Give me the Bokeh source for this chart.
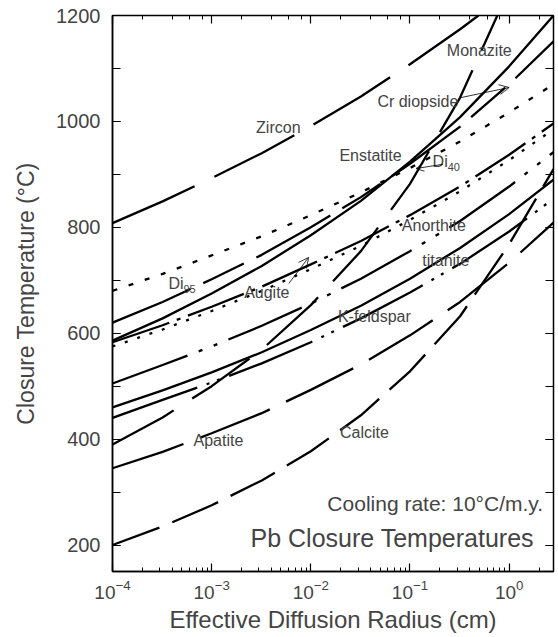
from bokeh.plotting import figure
from bokeh.models import (Range1d, LogAxis, LinearAxis, Label, Arrow, OpenHead,
                          SingleIntervalTicker, LogTicker)
from bokeh.embed import file_html
from bokeh.resources import INLINE

# ---------------- data ----------------
radius = [1e-4, 3.2e-4, 1e-3, 3.2e-3, 1e-2, 3.2e-2, 0.1, 0.32, 1.0, 2.8]

zircon_r = [1e-4, 3.2e-4, 1e-3, 3.2e-3, 1e-2, 3.2e-2, 0.1, 0.32, 0.49]
zircon_t = [808, 849, 893, 940, 991, 1047, 1108, 1174, 1200]

monazite_r = [1e-4, 3.2e-4, 1e-3, 3.2e-3, 1e-2, 3.2e-2, 0.1, 0.32, 0.76]
monazite_t = [390, 441, 500, 569, 653, 755, 882, 1045, 1200]

di95_t = [680, 712, 747, 783, 823, 866, 912, 962, 1017, 1070]
enstatite_t = [620, 659, 702, 748, 800, 857, 920, 990, 1070, 1151]
crdiopside_t = [586, 628, 675, 727, 785, 850, 924, 1008, 1104, 1200]
augite_t = [583, 615, 650, 688, 730, 774, 823, 877, 937, 996]
di40_t = [575, 607, 642, 680, 721, 765, 814, 868, 927, 985]
titanite_t = [505, 540, 575, 614, 656, 703, 755, 812, 877, 942]
kfeldspar_t = [460, 492, 526, 564, 606, 652, 703, 761, 825, 890]
anorthite_t = [440, 474, 507, 543, 583, 628, 677, 731, 792, 854]
apatite_t = [345, 376, 411, 449, 493, 541, 596, 659, 733, 809]
calcite_t = [200, 235, 275, 322, 377, 445, 528, 632, 768, 910]

# ---------------- figure ----------------
FONT = "Liberation Sans"
p = figure(width=558, height=637, x_axis_type="log",
           x_range=Range1d(1e-4, 2.8), y_range=Range1d(150, 1200),
           output_backend="svg", toolbar_location=None,
           min_border_left=112, min_border_right=5,
           min_border_top=15, min_border_bottom=66)
p.xgrid.grid_line_color = None
p.ygrid.grid_line_color = None
p.outline_line_color = "black"
p.outline_line_width = 1.5
p.background_fill_color = "white"
p.border_fill_color = "white"

yt = SingleIntervalTicker(interval=200, num_minor_ticks=2)
for ax in p.yaxis:
    ax.ticker = yt
    ax.major_tick_in = 8
    ax.major_tick_out = 0
    ax.minor_tick_in = 8
    ax.minor_tick_out = 0
    ax.axis_line_width = 1.5
    ax.major_tick_line_width = 1.2
    ax.minor_tick_line_width = 1.2
    ax.major_label_text_font = FONT
    ax.major_label_text_font_size = "20px"
    ax.major_label_standoff = 12
    ax.axis_label = "Closure Temperature (\u00b0C)"
    ax.axis_label_text_font = FONT
    ax.axis_label_text_font_size = "23px"
    ax.axis_label_text_font_style = "normal"
    ax.axis_label_standoff = 14

for ax in p.xaxis:
    ax.major_tick_in = 8
    ax.major_tick_out = 0
    ax.minor_tick_in = 4
    ax.minor_tick_out = 0
    ax.axis_line_width = 1.5
    ax.major_tick_line_width = 1.2
    ax.minor_tick_line_width = 1.0
    ax.major_label_text_font = FONT
    ax.major_label_text_font_size = "19px"
    ax.major_label_standoff = 8
    ax.axis_label = "Effective Diffusion Radius (cm)"
    ax.axis_label_text_font = FONT
    ax.axis_label_text_font_size = "24px"
    ax.axis_label_text_font_style = "normal"
    ax.axis_label_standoff = 4

right = LinearAxis(ticker=yt, major_tick_in=8, major_tick_out=0, minor_tick_in=8,
                   minor_tick_out=0, major_label_text_font_size="2px",
                   major_label_text_color=None,
                   major_label_standoff=0, axis_line_color=None,
                   major_tick_line_width=1.2, minor_tick_line_width=1.2)
p.add_layout(right, "right")
top = LogAxis(ticker=LogTicker(), major_tick_in=8, major_tick_out=0, minor_tick_in=4,
              minor_tick_out=0, major_label_text_font_size="2px",
              major_label_text_color=None,
              major_label_standoff=0, axis_line_color=None,
              major_tick_line_width=1.2, minor_tick_line_width=1.0)
p.add_layout(top, "above")

# ---------------- curves ----------------
LW = 2.3
p.line(zircon_r, zircon_t, line_width=LW, color="black", line_dash="90 22")
p.line(monazite_r, monazite_t, line_width=LW, color="black", line_dash="70 22")
p.line(radius, di95_t, line_width=LW, color="black", line_dash="5 12")
p.line(radius, enstatite_t, line_width=LW, color="black", line_dash="85 14 45 14")
p.line(radius, crdiopside_t, line_width=LW, color="black")
p.line(radius, augite_t, line_width=LW, color="black", line_dash="60 8 4 8")
p.line(radius, di40_t, line_width=LW, color="black", line_dash="3 10")
p.line(radius, titanite_t, line_width=LW, color="black", line_dash="80 12 4 12 4 12")
p.line(radius, kfeldspar_t, line_width=LW, color="black")
p.line(radius, anorthite_t, line_width=LW, color="black", line_dash="90 10 3 8 3 10")
p.line(radius, apatite_t, line_width=LW, color="black", line_dash="75 18")
p.line(radius, calcite_t, line_width=LW, color="black", line_dash="50 14")

# ---------------- labels ----------------
def lab(x, y, t, size="16px", align="center"):
    p.add_layout(Label(x=x, y=y, text=t, text_font=FONT, text_font_size=size,
                       text_align=align, text_baseline="middle"))

lab(0.50, 1134, "Monazite")
lab(0.12, 1038, "Cr diopside")
lab(0.0047, 988, "Zircon")
lab(0.040, 936, "Enstatite")
lab(0.174, 803, "Anorthite")
lab(0.23, 737, "titanite")
lab(0.0437, 632, "K-feldspar")
lab(0.0036, 677, "Augite")
lab(0.00117, 397, "Apatite")
lab(0.0347, 412, "Calcite")
lab(0.24, 925, "Di", align="right")
p.add_layout(Label(x=0.24, y=925, text="40", text_font=FONT, text_font_size="11px",
                   text_align="left", text_baseline="top", y_offset=-2))
lab(0.00052, 694, "Di", align="right")
p.add_layout(Label(x=0.00052, y=694, text="95", text_font=FONT, text_font_size="11px",
                   text_align="left", text_baseline="top", y_offset=-2))

p.add_layout(Label(x=2.2, y=278, text="Cooling rate: 10\u00b0C/m.y.", text_font=FONT,
                   text_font_size="21px", text_align="right", text_baseline="middle"))
p.add_layout(Label(x=1.78, y=214, text="Pb Closure Temperatures", text_font=FONT,
                   text_font_size="25px", text_align="right", text_baseline="middle"))

p.add_layout(Arrow(x_start=0.327, y_start=1045, x_end=1.0, y_end=1064, line_width=0.8,
                   end=OpenHead(size=10, line_width=0.8)))
p.add_layout(Arrow(x_start=0.006, y_start=694, x_end=0.0095, y_end=743, line_width=0.8,
                   end=OpenHead(size=10, line_width=0.8)))
p.add_layout(Arrow(x_start=0.215, y_start=919, x_end=0.115, y_end=911, line_width=0.8,
                   end=OpenHead(size=8, line_width=0.8)))

open("out.html", "w").write(file_html(p, INLINE))
